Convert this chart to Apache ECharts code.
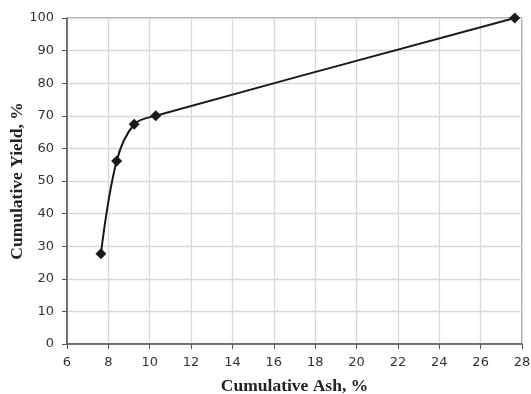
<!DOCTYPE html>
<html><head><meta charset="utf-8">
<script src="https://cdn.jsdelivr.net/npm/echarts@6/dist/echarts.min.js"></script>
<style>html,body{margin:0;padding:0;background:#fff}#c{width:531px;height:394px}</style>
</head><body><div id="c"></div>
<script>
const ash = [7.64, 8.40, 9.25, 10.29, 27.65];
const yieldPct = [27.7, 56.1, 67.4, 70.0, 100];
const xTitle = 'Cumulative Ash, %';
const yTitle = 'Cumulative Yield, %';

const chart = echarts.init(document.getElementById('c'));
const tickFont = {color:'#333', fontFamily:'DejaVu Sans', fontSize:13};
chart.setOption({
  animation:false,
  grid:{left:67, right:9, top:18, bottom:50, containLabel:false, outerBoundsMode:'none', show:true, borderColor:'#555', borderWidth:1},
  xAxis:{type:'value', min:6, max:28, interval:2,
    name:xTitle, nameLocation:'middle', nameGap:33, nameMoveOverlap:false,
    nameTextStyle:{fontFamily:'Liberation Serif', fontWeight:'bold', fontSize:17.5, color:'#222'},
    axisLine:{lineStyle:{color:'#555', width:1.5}},
    axisTick:{show:true, length:5, lineStyle:{color:'#555'}},
    axisLabel:Object.assign({margin:12}, tickFont),
    splitLine:{lineStyle:{color:'#d9d9d9', width:1.3}}},
  yAxis:{type:'value', min:0, max:100, interval:10,
    name:yTitle, nameLocation:'middle', nameGap:41, nameMoveOverlap:false,
    nameTextStyle:{fontFamily:'Liberation Serif', fontWeight:'bold', fontSize:17.5, color:'#222'},
    axisLine:{show:true, lineStyle:{color:'#555', width:1.5}},
    axisTick:{show:true, length:5, lineStyle:{color:'#555'}},
    axisLabel:Object.assign({margin:13}, tickFont),
    splitLine:{lineStyle:{color:'#d9d9d9', width:1.3}}},
  series:[{type:'line', data:ash.map((x,i)=>[x, yieldPct[i]]),
    smooth:0.35, symbol:'diamond', symbolSize:11,
    lineStyle:{color:'#1a1a1a', width:2},
    itemStyle:{color:'#1a1a1a'}}]
});
</script></body></html>
